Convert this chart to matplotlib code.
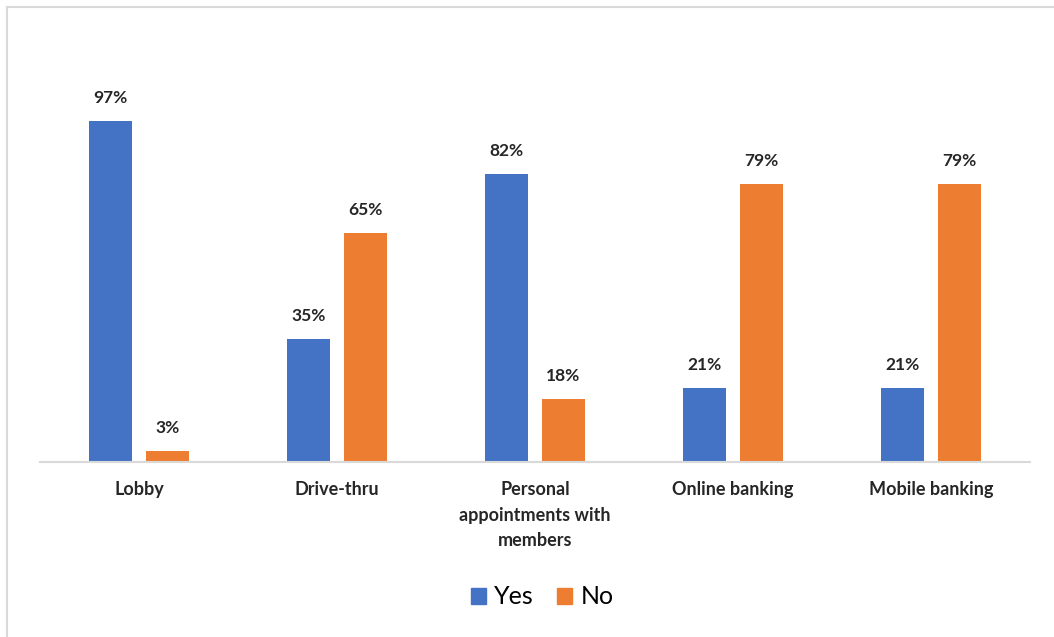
import numpy as np
import matplotlib.pyplot as plt
from matplotlib.lines import Line2D
from matplotlib.patches import Patch

categories = ['Lobby', 'Drive-thru', 'Personal\nappointments with\nmembers',
              'Online banking', 'Mobile banking']
yes_pct = [97, 35, 82, 21, 21]
no_pct = [3, 65, 18, 79, 79]

blue = '#4472C4'
orange = '#ED7D31'
plt.rcParams['font.family'] = ['Lato', 'DejaVu Sans']

W, H = 1054, 637
fig = plt.figure(figsize=(W / 100, H / 100), dpi=100)
ax = fig.add_axes([40 / W, (H - 462) / H, 990 / W, 422 / H])

x = np.arange(len(categories))
bw = 0.222
off = 0.144
ax.bar(x - off, yes_pct, bw, color=blue, label='Yes')
ax.bar(x + off, no_pct, bw, color=orange, label='No')

for xi, v in zip(x, yes_pct):
    ax.text(xi - off, v + 4.3, f'{v}%', ha='center', va='bottom',
            fontsize=12.5, fontweight='bold', color='#262626')
for xi, v in zip(x, no_pct):
    ax.text(xi + off, v + 4.3, f'{v}%', ha='center', va='bottom',
            fontsize=12.5, fontweight='bold', color='#262626')

ax.set_xlim(-0.5, len(categories) - 0.5)
ax.set_ylim(0, 120)
ax.set_yticks([])
ax.set_xticks(x)
ax.set_xticklabels(categories, fontsize=13, fontweight='bold', color='#262626',
                   linespacing=1.6)
ax.tick_params(axis='x', length=0, pad=14)
for s in ['top', 'right', 'left']:
    ax.spines[s].set_visible(False)
ax.spines['bottom'].set_color('#D9D9D9')
ax.spines['bottom'].set_linewidth(1.5)

handles = [Patch(color=blue, label='Yes'), Patch(color=orange, label='No')]
fig.legend(handles=handles, loc='center', bbox_to_anchor=(542 / W, 1 - 597 / H),
           ncol=2, frameon=False, fontsize=18, handlelength=0.6, handleheight=0.6,
           handletextpad=0.35, columnspacing=0.9)

# outer frame edges
fig.add_artist(Line2D([7 / W, 7 / W], [0, 1 - 7 / H], color='#D9D9D9', lw=1.5,
                      transform=fig.transFigure))
fig.add_artist(Line2D([7 / W, 1], [1 - 7 / H, 1 - 7 / H], color='#D9D9D9', lw=1.5,
                      transform=fig.transFigure))

fig.savefig('out.png', dpi=100)
